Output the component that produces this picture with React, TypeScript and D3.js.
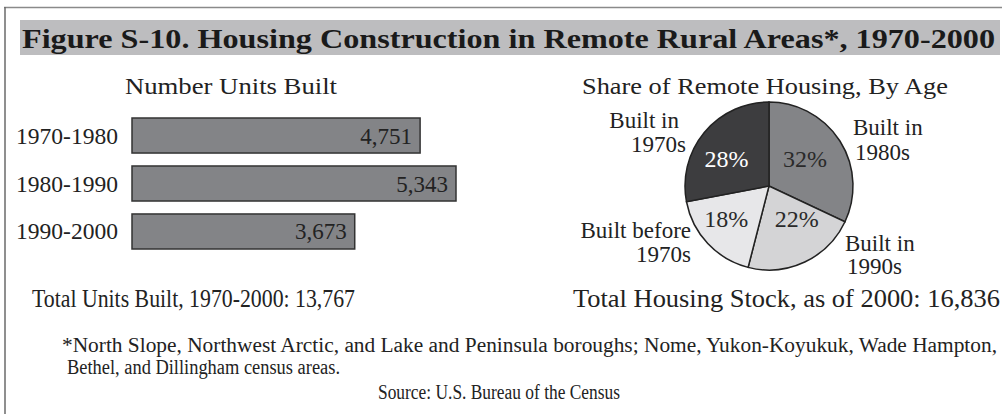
import React from "react";
import * as d3 from "d3";

const periods = ["1970-1980", "1980-1990", "1990-2000"];
const unitsBuilt = [4751, 5343, 3673];

const pieLabels = [["Built in", "1980s"], ["Built in", "1990s"], ["Built before", "1970s"], ["Built in", "1970s"]];
const pieShares = [32, 22, 18, 28];
const pieColors = ["#838487", "#d4d4d6", "#e7e7e9", "#3d3d3f"];
const pieTextColors = ["#2a2a2a", "#2a2a2a", "#2a2a2a", "#ffffff"];

const title = "Figure S-10. Housing Construction in Remote Rural Areas*, 1970-2000";
const totalBuilt = "Total Units Built, 1970-2000: 13,767";
const totalStock = "Total Housing Stock, as of 2000: 16,836";
const note1 = "*North Slope, Northwest Arctic, and Lake and Peninsula boroughs; Nome, Yukon-Koyukuk, Wade Hampton,";
const note2 = "Bethel, and Dillingham census areas.";
const source = "Source: U.S. Bureau of the Census";

const FONT = "'Liberation Serif'";
const TXT = "#222";

export default function App() {
  const x = d3.scaleLinear().domain([0, 5343]).range([132, 456]);
  const y = d3.scaleBand().domain(periods).range([118, 249]).paddingInner(0.27).paddingOuter(0);

  const cx = 769, cy = 186, r = 84;
  const pie = d3.pie<number>().sort(null).value((d) => d);
  const arcs = pie(pieShares);
  const arc = d3.arc<d3.PieArcDatum<number>>().innerRadius(0).outerRadius(r);
  const labelArc = d3.arc<d3.PieArcDatum<number>>().innerRadius(r * 0.55).outerRadius(r * 0.55);
  const pctNudge = [[-3, -1], [8, -8], [-9, 2], [-7, 3]];

  const outerPos = [
    { x: [853, 855], y: [135, 160], anchor: "start" },
    { x: [845, 847], y: [251, 274], anchor: "start" },
    { x: [691, 691], y: [238, 262], anchor: "end" },
    { x: [679, 686], y: [128, 152], anchor: "end" },
  ];

  const ts = { fontFamily: FONT } as React.CSSProperties;

  return (
    <svg width={1002} height={414} style={{ position: "absolute", left: 0, top: 0, background: "#fff" }}>
      <line x1={4} x2={1002} y1={7.5} y2={7.5} stroke="#8a8a8a" strokeWidth={1.5} />
      <line x1={5} x2={5} y1={7} y2={414} stroke="#6a6a6a" strokeWidth={1.5} />

      <rect x={20} y={20} width={980} height={35} fill="#bdbdbf" />
      <text style={ts} x={22} y={48} fontSize={28} fontWeight="bold" fill="#1a1a1a" textLength={973} lengthAdjust="spacingAndGlyphs">
        {title}
      </text>

      <text style={ts} x={231} y={94} fontSize={24} fill={TXT} textAnchor="middle" textLength={212} lengthAdjust="spacingAndGlyphs">
        Number Units Built
      </text>
      {periods.map((p, i) => {
        const y0 = y(p)!;
        const bw = y.bandwidth();
        return (
          <g key={p}>
            <rect x={x(0)} y={y0} width={x(unitsBuilt[i]) - x(0)} height={bw} fill="#838487" stroke="#333" strokeWidth={1.5} />
            <text style={ts} x={x(unitsBuilt[i]) - 8} y={y0 + bw / 2 + 8} fontSize={23} fill={TXT} textAnchor="end">
              {d3.format(",")(unitsBuilt[i])}
            </text>
            <text style={ts} x={16} y={y0 + bw / 2 + 8} fontSize={24} fill={TXT} textLength={102} lengthAdjust="spacingAndGlyphs">
              {p}
            </text>
          </g>
        );
      })}

      <text style={ts} x={765} y={94} fontSize={24} fill={TXT} textAnchor="middle" textLength={366} lengthAdjust="spacingAndGlyphs">
        Share of Remote Housing, By Age
      </text>
      <g transform={`translate(${cx},${cy})`}>
        {arcs.map((a, i) => (
          <path key={i} d={arc(a)!} fill={pieColors[i]} stroke="#222" strokeWidth={1.5} />
        ))}
      </g>
      {arcs.map((a, i) => {
        const [lx, ly] = labelArc.centroid(a);
        return (
          <text style={ts} key={"p" + i} x={cx + lx + pctNudge[i][0]} y={cy + ly + 7 + pctNudge[i][1]} fontSize={24} fill={pieTextColors[i]} textAnchor="middle">
            {pieShares[i]}%
          </text>
        );
      })}
      {pieLabels.map((lines, i) => (
        <g key={"o" + i}>
          {lines.map((ln, j) => (
            <text style={ts} key={j} x={outerPos[i].x[j]} y={outerPos[i].y[j]} fontSize={23} fill={TXT} textAnchor={outerPos[i].anchor as any}>
              {ln}
            </text>
          ))}
        </g>
      ))}

      <text style={ts} x={32} y={307} fontSize={25} fill={TXT} textLength={323} lengthAdjust="spacingAndGlyphs">{totalBuilt}</text>
      <text style={ts} x={573} y={307} fontSize={25} fill={TXT} textLength={427} lengthAdjust="spacingAndGlyphs">{totalStock}</text>

      <text style={ts} x={62} y={352} fontSize={20} fill={TXT} textLength={935} lengthAdjust="spacingAndGlyphs">{note1}</text>
      <text style={ts} x={67} y={374} fontSize={20} fill={TXT} textLength={273} lengthAdjust="spacingAndGlyphs">{note2}</text>
      <text style={ts} x={378} y={399} fontSize={20} fill={TXT} textLength={242} lengthAdjust="spacingAndGlyphs">{source}</text>
    </svg>
  );
}
